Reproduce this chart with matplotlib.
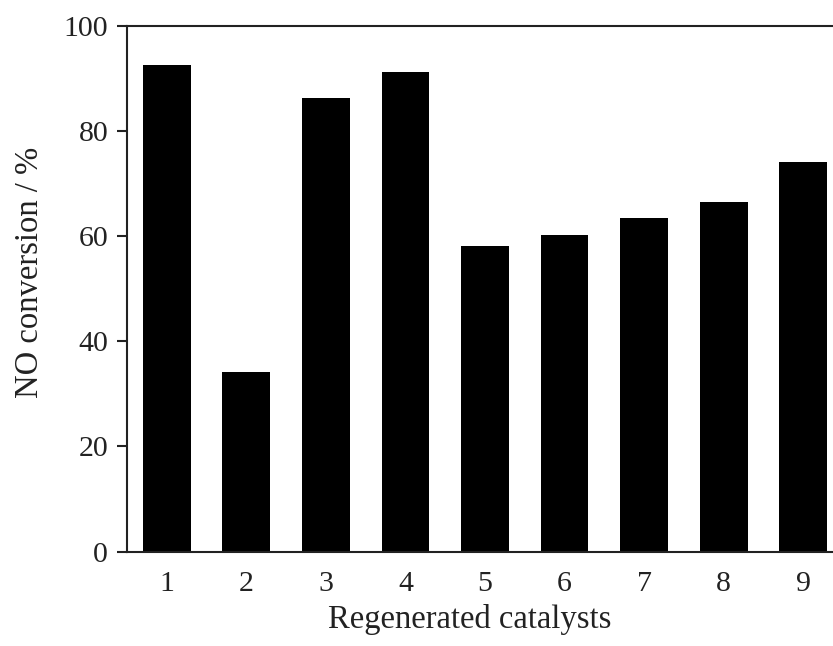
import matplotlib
matplotlib.use("Agg")
import matplotlib.pyplot as plt

catalysts = ["1", "2", "3", "4", "5", "6", "7", "8", "9"]
conversion = [92.5, 34.1, 86.3, 91.3, 58.2, 60.3, 63.5, 66.6, 74.2]
yticks = [0, 20, 40, 60, 80, 100]

plt.rcParams['font.family'] = ['Liberation Serif', 'DejaVu Serif']

W, H = 833, 646
fig = plt.figure(figsize=(W / 100, H / 100), dpi=100)
left, right, top, bottom = 127, 843, 26, 551.5
ax = fig.add_axes([left / W, 1 - bottom / H, (right - left) / W, (bottom - top) / H])

x = list(range(1, len(catalysts) + 1))
ax.bar(x, conversion, width=0.6, color='black', edgecolor='black', linewidth=0)

ax.set_xlim(0.5, 9.5)
ax.set_ylim(0, 100)
ax.set_yticks(yticks)
ax.set_xticks(x)
ax.set_xticklabels(catalysts)

for s in ax.spines.values():
    s.set_linewidth(1.5)
    s.set_color('#222222')

ax.tick_params(axis='y', direction='out', length=7.5, width=1.5, pad=6, labelsize=21.5, colors='#222222')
ax.tick_params(axis='x', length=0, pad=14, labelsize=21.5, colors='#222222')

ax.set_ylabel("NO conversion / %", fontsize=23.5, color='#222222')
ax.set_xlabel("Regenerated catalysts", fontsize=23.5, color='#222222')
ax.yaxis.label.set_va('baseline')
ax.yaxis.set_label_coords(-(127 - 38) / (right - left), (bottom - 272) / (bottom - top))
ax.xaxis.set_label_coords((470 - left) / (right - left), -(604 - bottom) / (bottom - top))

fig.savefig("out.png", dpi=100)
